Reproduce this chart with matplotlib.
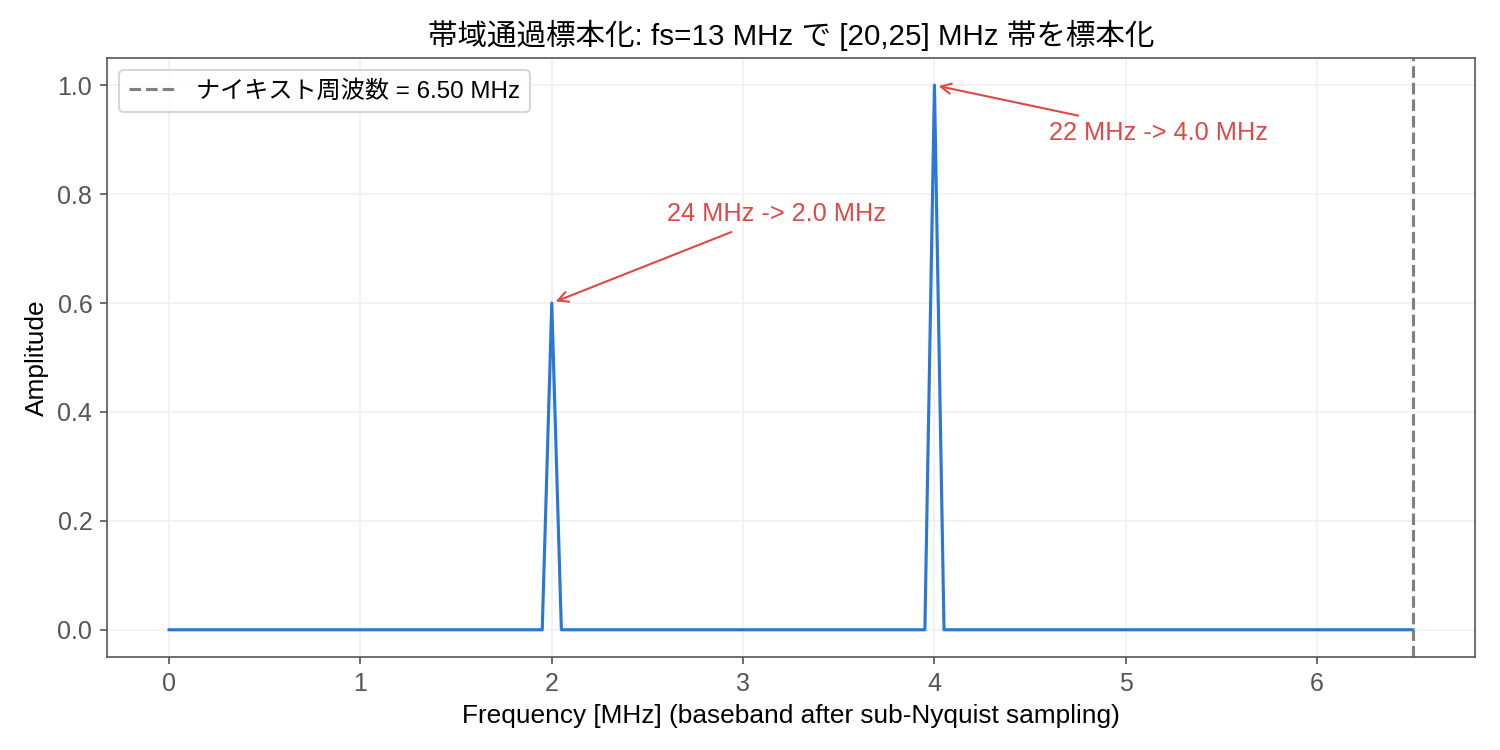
import matplotlib
matplotlib.use("Agg")
import matplotlib.pyplot as plt

plt.rcParams['font.family'] = ['Liberation Sans', 'Noto Sans CJK JP']

# datos del espectro en banda base
freqs = [0.0, 1.95, 2.0, 2.05, 3.95, 4.0, 4.05, 6.5]
amps = [0.0, 0.0, 0.6, 0.0, 0.0, 1.0, 0.0, 0.0]
nyquist = 6.5
picos_x = [2.0, 4.0]
picos_y = [0.6, 1.0]
textos = ["24 MHz -> 2.0 MHz", "22 MHz -> 4.0 MHz"]
textos_pos = [(2.6, 0.75), (4.6, 0.9)]

fig, ax = plt.subplots(figsize=(10, 5), dpi=150)
fig.subplots_adjust(left=0.0713, right=0.9833, top=0.9227, bottom=0.124)

ax.plot(freqs, amps, color="#2b77d5", lw=1.5)
ax.axvline(nyquist, color="gray", ls="--", lw=1.5,
           label=f"ナイキスト周波数 = {nyquist:.2f} MHz")

for px, py, t, pos in zip(picos_x, picos_y, textos, textos_pos):
    ax.annotate(t, xy=(px, py), xytext=pos, color="#e04848", fontsize=12.2,
                arrowprops=dict(arrowstyle="->", color="#e04848", lw=1))

ax.set_title("帯域通過標本化: fs=13 MHz で [20,25] MHz 帯を標本化", fontsize=14.2)
ax.set_xlabel("Frequency [MHz] (baseband after sub-Nyquist sampling)", fontsize=12.6)
ax.set_ylabel("Amplitude", fontsize=12.6)
ax.tick_params(labelsize=12, colors="#555555")
ax.grid(True, color="#f0f0f0", lw=0.8)
for s in ax.spines.values():
    s.set_color("#555555")
ax.legend(loc="upper left", fontsize=11.6)

fig.savefig("out.png")
